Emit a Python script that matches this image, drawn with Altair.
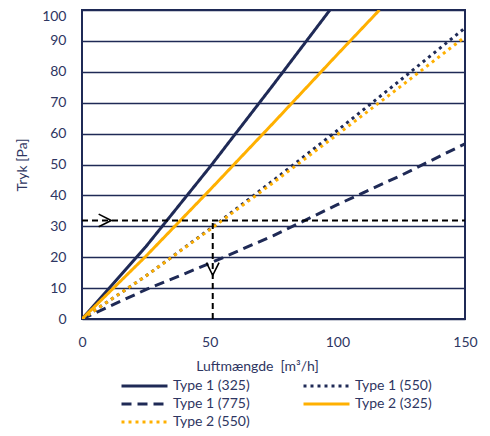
import altair as alt
import pandas as pd

# ---- data ----
series_names = ["Type 1 (325)", "Type 1 (550)", "Type 1 (775)", "Type 2 (325)", "Type 2 (550)"]

t1_325_x = [0, 25, 50, 75, 97.1]
t1_325_y = [0, 23.4, 49.1, 75.9, 100]

t1_550_x = [0, 25, 50, 75, 100, 125, 150]
t1_550_y = [0, 13.9, 29.1, 44.9, 61.0, 77.5, 94.2]

t1_775_x = [0, 25, 50, 75, 100, 125, 150]
t1_775_y = [0, 9.5, 18.0, 27.0, 37.0, 46.5, 56.7]

t2_325_x = [0, 25, 50, 75, 100, 116.5]
t2_325_y = [0, 20.3, 41.7, 63.5, 85.6, 100]

t2_550_x = [0, 25, 50, 75, 100, 125, 150]
t2_550_y = [0, 13.9, 28.9, 44.2, 59.7, 75.4, 91.3]

x_ticks = [0, 50, 100, 150]
y_ticks = [0, 10, 20, 30, 40, 50, 60, 70, 80, 90, 100]

ref_flow = 51.2       # vertical reading line
ref_pressure = 31.9   # horizontal reading line
arrow_x = [9.0, 51.2]
arrow_y = [31.9, 16.2]
arrow_kind = ["right", "down"]

NAVY = "#1f2a56"
ORANGE = "#ffb000"
TEXT = "#2e3662"
FONT = "Lato"

# ---- build table ----
rows = []
draw_order = [
    ("Type 1 (325)", t1_325_x, t1_325_y),
    ("Type 1 (775)", t1_775_x, t1_775_y),
    ("Type 1 (550)", t1_550_x, t1_550_y),
    ("Type 2 (325)", t2_325_x, t2_325_y),
    ("Type 2 (550)", t2_550_x, t2_550_y),
]
for name, xs, ys in draw_order:
    for xv, yv in zip(xs, ys):
        rows.append({"series": name, "flow": xv, "pressure": yv})
df = pd.DataFrame(rows)

xscale = alt.Scale(domain=[0, 150], nice=False, zero=True)
yscale = alt.Scale(domain=[0, 100], nice=False)

x_axis = alt.Axis(
    values=x_ticks, grid=False, ticks=False, domain=False, labelFlush=False,
    labelPadding=16, labelFontSize=14, labelColor=TEXT, labelFont=FONT,
    title="Luftmængde\u00a0 [m³/h]", titleFontSize=14, titleFontWeight="normal",
    titleColor=TEXT, titleFont=FONT, titlePadding=10, titleX=175)
y_axis = alt.Axis(
    values=y_ticks, grid=True, gridColor=NAVY, gridWidth=1.6, ticks=False,
    domain=False, labelOverlap=False, labelPadding=16, labelFontSize=14,
    labelOffset={"condition": {"test": "datum.value == 100", "value": 6}, "value": 0},
    labelColor=TEXT, labelFont=FONT, title="Tryk [Pa]", titleFontSize=14,
    titleFontWeight="normal", titleColor=TEXT, titleFont=FONT, titlePadding=12)

legend = alt.Legend(
    title=None, orient="none", legendX=38, legendY=368, columns=2, direction="horizontal",
    symbolType="stroke", symbolSize=2116, symbolStrokeWidth=3,
    labelFontSize=14, labelColor=TEXT, labelFont=FONT, labelOffset=4,
    rowPadding=2, columnPadding=52, clipHeight=16,
)

lines = alt.Chart(df).mark_line(clip=True, strokeWidth=3).encode(
    x=alt.X("flow:Q", scale=xscale, axis=x_axis),
    y=alt.Y("pressure:Q", scale=yscale, axis=y_axis),
    color=alt.Color("series:N", scale=alt.Scale(
        domain=series_names, range=[NAVY, NAVY, NAVY, ORANGE, ORANGE]), legend=legend),
    strokeDash=alt.StrokeDash("series:N", scale=alt.Scale(
        domain=series_names, range=[[1, 0], [3, 4], [10, 6], [1, 0], [3, 4]]), legend=legend),
    detail="series:N",
)

ref_h = pd.DataFrame({"x0": [0], "x1": [150], "y": [ref_pressure]})
ref_v = pd.DataFrame({"x": [ref_flow], "y0": [0], "y1": [ref_pressure]})

rule_h = alt.Chart(ref_h).mark_rule(color="black", strokeWidth=2, strokeDash=[6, 4]).encode(
    x=alt.X("x0:Q", scale=xscale, axis=x_axis), x2="x1:Q",
    y=alt.Y("y:Q", scale=yscale, axis=y_axis))
rule_v = alt.Chart(ref_v).mark_rule(color="black", strokeWidth=2, strokeDash=[6, 4]).encode(
    x=alt.X("x:Q", scale=xscale, axis=x_axis),
    y=alt.Y("y0:Q", scale=yscale, axis=y_axis), y2="y1:Q")

arrows = pd.DataFrame({"x": arrow_x, "y": arrow_y, "kind": arrow_kind})
arrow_marks = alt.Chart(arrows).mark_point(filled=False, stroke="black", strokeWidth=1.6, opacity=1).encode(
    x=alt.X("x:Q", scale=xscale, axis=x_axis), y=alt.Y("y:Q", scale=yscale, axis=y_axis),
    shape=alt.Shape("kind:N", scale=alt.Scale(
        domain=["right", "down"], range=["M-1,-1L1,0L-1,1", "M-1,-1L0,1L1,-1"]), legend=None),
    size=alt.value(160),
)

chart = alt.layer(lines, rule_h, rule_v, arrow_marks).properties(
    width=383, height=309,
    background="white",
    autosize=alt.AutoSizeParams(type="none"),
    padding={"left": 74, "top": 2, "right": 17, "bottom": 109},
).configure_view(stroke=NAVY, strokeWidth=2)

chart.save("out.html", embed_options={"renderer": "svg", "actions": False})
